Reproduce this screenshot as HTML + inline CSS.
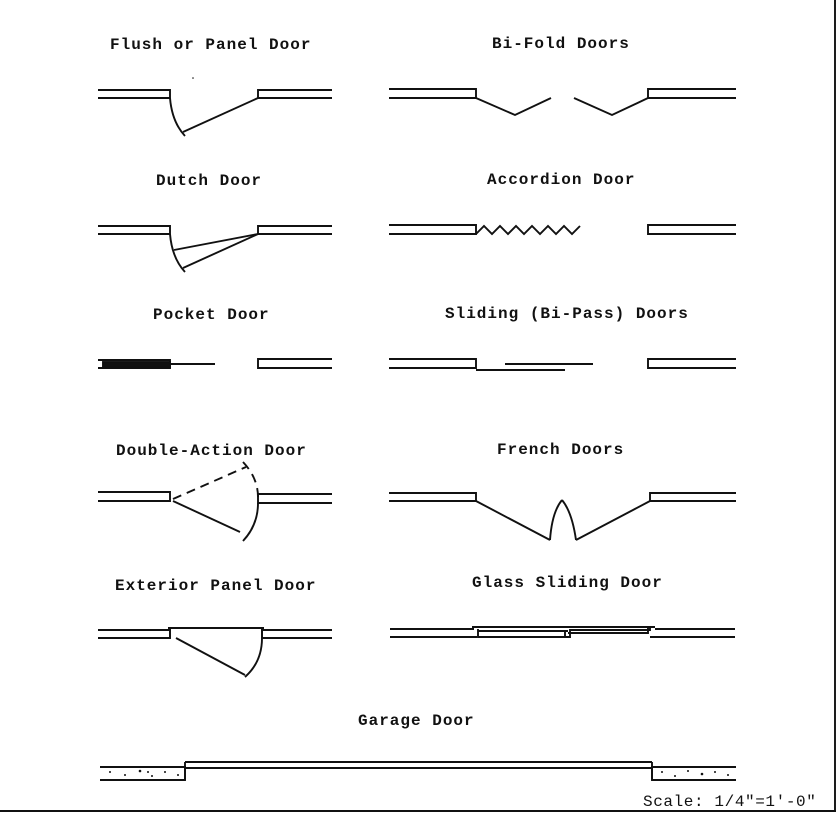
<!DOCTYPE html>
<html><head><style>
html,body{margin:0;padding:0;background:#fff;}
svg{display:block;}
text{font-family:"Liberation Mono",monospace;font-size:16px;font-weight:bold;fill:#111;letter-spacing:1px;}
</style></head><body>
<svg width="837" height="813" viewBox="0 0 837 813" xmlns="http://www.w3.org/2000/svg">
<g fill="none" stroke="#111" stroke-width="1.9">
<line x1="835" y1="0" x2="835" y2="811"/>
<line x1="0" y1="811" x2="836" y2="811"/>

<path d="M98 90H170V98H98"/><path d="M332 90H258V98H332"/>
<path d="M170 98Q172 122 185 136"/><line x1="183" y1="132" x2="258" y2="98"/>
<path d="M389 89H476V98H389"/><path d="M736 89H648V98H736"/>
<polyline points="476,98 515,115 551,98"/><polyline points="574,98 612,115 648,98"/>

<path d="M98 226H170V234H98"/><path d="M332 226H258V234H332"/>
<path d="M170 234Q172 258 185 272"/>
<line x1="174" y1="250" x2="258" y2="234"/><line x1="183" y1="268" x2="258" y2="234"/>
<path d="M389 225H476V234H389"/><path d="M736 225H648V234H736"/>
<polyline points="476,234 484,226 492,234 500,226 508,234 516,226 524,234 532,226 540,234 548,226 556,234 564,226 572,234 580,226"/>

<path d="M98 360H170V368H98"/>
<rect x="103" y="362" width="67" height="5" fill="#111"/>
<line x1="170" y1="364" x2="215" y2="364"/>
<path d="M332 359H258V368H332"/>
<path d="M389 359H476V368H389"/><path d="M736 359H648V368H736"/>
<line x1="476" y1="370" x2="565" y2="370"/><line x1="505" y1="364" x2="593" y2="364"/>

<path d="M98 492H170V501H98"/><path d="M332 494H258V503H332"/>
<line x1="173" y1="499" x2="246" y2="467" stroke-dasharray="9,6"/>
<path d="M243 462Q258 478 258 497" stroke-dasharray="9,6"/>
<path d="M258 503Q258 525 243 541"/>
<line x1="173" y1="501" x2="240" y2="532"/>
<path d="M389 493H476V501H389"/><path d="M736 493H650V501H736"/>
<line x1="476" y1="501" x2="550" y2="540"/><path d="M550 540Q552 512 562 500"/>
<line x1="650" y1="501" x2="576" y2="540"/><path d="M576 540Q572 512 562 500"/>

<path d="M98 630H170V638H98"/><line x1="170" y1="628" x2="170" y2="638"/>
<path d="M332 630H262V638H332"/><line x1="262" y1="628" x2="262" y2="638"/>
<line x1="168" y1="628" x2="264" y2="628"/>
<line x1="176" y1="638" x2="245" y2="675"/><path d="M262 638Q262 662 245 677"/>
<path d="M390 629H474M390 637H477"/>
<path d="M472 627H655M655 629H735M650 637H735"/>
<path d="M478 629V637H568M478 631H568"/>
<path d="M565 630V637H570V630H650V626"/>
<path d="M568 633H648V628"/>

<path d="M100 767H185V780H100"/>
<line x1="185" y1="762" x2="652" y2="762"/><line x1="185" y1="768" x2="652" y2="768"/>
<line x1="185" y1="762" x2="185" y2="780"/>
<path d="M736 767H652V780H736"/><line x1="652" y1="762" x2="652" y2="780"/>
</g>
<g fill="#111">
<circle cx="110" cy="772" r="1"/><circle cx="125" cy="775" r="1"/><circle cx="140" cy="771" r="1.3"/><circle cx="152" cy="776" r="1"/><circle cx="165" cy="772" r="1"/><circle cx="178" cy="775" r="1"/><circle cx="148" cy="772" r="1"/>
<circle cx="662" cy="772" r="1"/><circle cx="675" cy="776" r="1"/><circle cx="688" cy="771" r="1"/><circle cx="702" cy="774" r="1.3"/><circle cx="715" cy="772" r="1"/><circle cx="728" cy="775" r="1"/>
<circle cx="193" cy="78" r="0.8"/>
</g>
<text x="110" y="49">Flush or Panel Door</text>
<text x="492" y="48">Bi-Fold Doors</text>
<text x="156" y="185">Dutch Door</text>
<text x="487" y="184">Accordion Door</text>
<text x="153" y="319">Pocket Door</text>
<text x="445" y="318">Sliding (Bi-Pass) Doors</text>
<text x="116" y="455">Double-Action Door</text>
<text x="497" y="454">French Doors</text>
<text x="115" y="590">Exterior Panel Door</text>
<text x="472" y="587">Glass Sliding Door</text>
<text x="358" y="725">Garage Door</text>
<text x="643" y="806" style="font-weight:normal;letter-spacing:0.6px">Scale:  1/4"=1'-0"</text>
</svg>
</body></html>
